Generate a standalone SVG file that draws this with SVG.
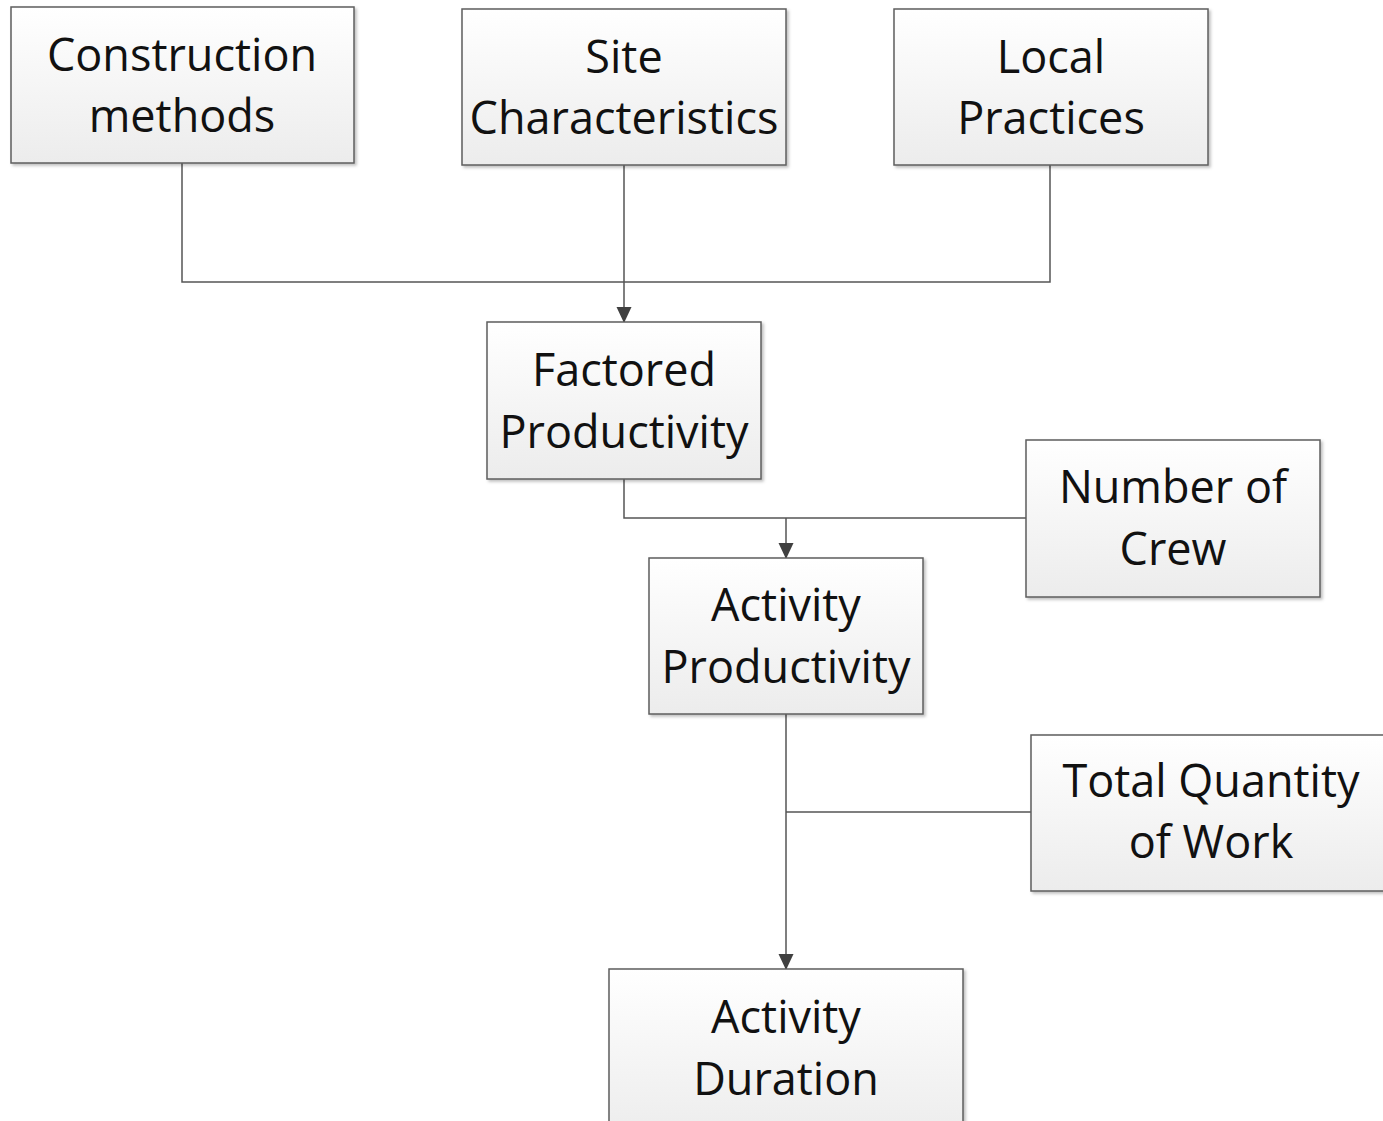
<svg xmlns="http://www.w3.org/2000/svg" width="1383" height="1121" viewBox="0 0 1383 1121">
<style>
.box{fill:url(#g);stroke:#5e5e5e;stroke-width:1.5;filter:url(#sh)}
.t{font-family:"Open Sans","Noto Sans",sans-serif;font-size:45px;fill:#111;text-anchor:middle}
.c{fill:none;stroke:#555;stroke-width:1.5}
</style>
<defs>
<linearGradient id="g" x1="0" y1="0" x2="0" y2="1"><stop offset="0" stop-color="#ffffff"/><stop offset="1" stop-color="#ececec"/></linearGradient>
<filter id="sh" x="-10%" y="-10%" width="120%" height="120%"><feDropShadow dx="2" dy="2" stdDeviation="1.5" flood-color="#000" flood-opacity="0.25"/></filter>
<marker id="a2" markerWidth="16" markerHeight="16" refX="15" refY="8" orient="auto" markerUnits="userSpaceOnUse" viewBox="0 0 16 16"><path d="M0,0.5 L16,8 L0,15.5 Z" fill="#404040"/></marker>
</defs>
<g id="connectors">
<path class="c" d="M182,163 V282 H1050 V165"/>
<path class="c" d="M624,165 V322" marker-end="url(#a2)"/>
<path class="c" d="M624,479 V518 H1026"/>
<path class="c" d="M786,518 V558" marker-end="url(#a2)"/>
<path class="c" d="M786,714 V969" marker-end="url(#a2)"/>
<path class="c" d="M786,812 H1031"/>
</g>
<g id="n1"><rect class="box" x="11" y="7" width="343" height="156"/><text class="t" x="182" y="71">Construction</text><text class="t" x="182" y="132">methods</text></g>
<g id="n2"><rect class="box" x="462" y="9" width="324" height="156"/><text class="t" x="624" y="73">Site</text><text class="t" x="624" y="134">Characteristics</text></g>
<g id="n3"><rect class="box" x="894" y="9" width="314" height="156"/><text class="t" x="1051" y="73">Local</text><text class="t" x="1051" y="134">Practices</text></g>
<g id="n4"><rect class="box" x="487" y="322" width="274" height="157"/><text class="t" x="624" y="386">Factored</text><text class="t" x="624" y="448">Productivity</text></g>
<g id="n5"><rect class="box" x="1026" y="440" width="294" height="157"/><text class="t" x="1173" y="503">Number of</text><text class="t" x="1173" y="565">Crew</text></g>
<g id="n6"><rect class="box" x="649" y="558" width="274" height="156"/><text class="t" x="786" y="621">Activity</text><text class="t" x="786" y="683">Productivity</text></g>
<g id="n7"><rect class="box" x="1031" y="735" width="360" height="156"/><text class="t" x="1211" y="797">Total Quantity</text><text class="t" x="1211" y="858">of Work</text></g>
<g id="n8"><rect class="box" x="609" y="969" width="354" height="170"/><text class="t" x="786" y="1033">Activity</text><text class="t" x="786" y="1095">Duration</text></g>
</svg>
